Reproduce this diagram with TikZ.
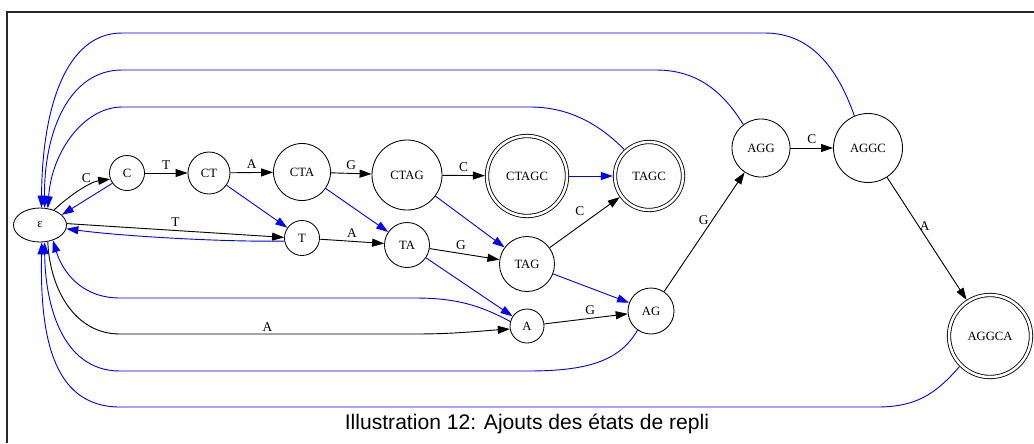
\documentclass[tikz,border=0pt]{standalone}
\usepackage{fontspec}
\setmainfont{Liberation Serif}
\newfontfamily\legendefont{Liberation Sans}
\usetikzlibrary{arrows.meta, shapes.geometric}
\definecolor{repli}{RGB}{0, 0, 255}
\definecolor{cadre}{RGB}{40, 40, 40}

\tikzset{
  etat/.style={circle, draw, line width=0.6pt, inner sep=0pt, font=\fontsize{9}{11}\selectfont},
  final/.style={etat, double, double distance=1.8pt, outer sep=1.5pt},
  fleche/.style={-{Triangle[length=3mm, width=2mm]}, line width=0.65pt},
  retour/.style={fleche, repli},
  lbl/.style={font=\fontsize{9.5}{11}\selectfont, inner sep=2.5pt}
}

\begin{document}
\begin{tikzpicture}[x=0.025cm, y=-0.025cm]
        \useasboundingbox (0,0) rectangle (1034,443);
        % Cadre
        \draw[line width=0.9pt, cadre] (7,443) -- (7,12) -- (1034,12);

        % Etats
        \node[draw, ellipse, line width=0.6pt, inner sep=0pt, minimum width=1.325cm, minimum height=0.85cm, font=\fontsize{9}{11}\selectfont] (e) at (40,225) {ε};
        \node[etat, minimum size=0.875cm] (c) at (127,173) {C};
        \node[etat, minimum size=1.05cm] (ct) at (209,173) {CT};
        \node[etat, minimum size=1.425cm] (cta) at (302,172) {CTA};
        \node[etat, minimum size=1.75cm] (ctag) at (407,175) {CTAG};
        \node[final, minimum size=2cm] (ctagc) at (527,176) {CTAGC};
        \node[final, minimum size=1.7cm] (tagc) at (649,176) {TAGC};
        \node[etat, minimum size=0.875cm] (t) at (302,238) {T};
        \node[etat, minimum size=1.125cm] (ta) at (407,245) {TA};
        \node[etat, minimum size=1.375cm] (tag) at (527,264) {TAG};
        \node[etat, minimum size=0.85cm] (a) at (527,326) {A};
        \node[etat, minimum size=1.15cm] (ag) at (651,311) {AG};
        \node[etat, minimum size=1.45cm] (agg) at (761,148) {AGG};
        \node[etat, minimum size=1.725cm] (aggc) at (868,148) {AGGC};
        \node[final, minimum size=2.05cm] (aggca) at (990,336) {AGGCA};

        % Transitions
        \draw[fleche] (e.47) .. controls (70,195) and (90,182) .. node[lbl, above, pos=0.6] {C} (c.200);
        \draw[fleche] (c) -- node[lbl, above] {T} (ct);
        \draw[fleche] (ct) -- node[lbl, above] {A} (cta);
        \draw[fleche] (cta) -- node[lbl, above] {G} (ctag);
        \draw[fleche] (ctag) -- node[lbl, above] {C} (ctagc);
        \draw[fleche] (e.3) -- node[lbl, above] {T} (t.178);
        \draw[fleche] (t) -- node[lbl, above] {A} (ta);
        \draw[fleche] (ta) -- node[lbl, above, pos=0.45] {G} (tag);
        \draw[fleche] (tag) -- node[lbl, above left, pos=0.55] {C} (tagc);
        \draw[fleche] (a) -- node[lbl, above, pos=0.55] {G} (ag);
        \draw[fleche] (ag) -- node[lbl, left, pos=0.6] {G} (agg);
        \draw[fleche] (agg) -- node[lbl, above] {C} (aggc);
        \draw[fleche] (aggc) -- node[lbl, right, pos=0.4, inner sep=0.5pt] {A} (aggca);
        \draw[fleche] (e.295) .. controls (50,290) and (75,334) .. (120,334)
            -- node[lbl, above, inner sep=1.5pt] {A} (415,334) .. controls (455,334) and (480,331) .. (a.190);

        % Etats de repli
        \draw[retour] (c.215) -- (e.25);
        \draw[retour] (t.190) .. controls (220,242) and (120,236) .. (e.-8);
        \draw[retour] (ct) -- (t);
        \draw[retour] (cta) -- (ta);
        \draw[retour] (ctag) -- (tag);
        \draw[retour] (ctagc) -- (tagc);
        \draw[retour] (ta) -- (a);
        \draw[retour] (tag) -- (ag);
        \draw[retour] (tagc.133) .. controls (600,125) and (570,107) .. (530,107)
            -- (122,107) .. controls (85,107) and (52,150) .. (e.65);
        \draw[retour] (agg.127) .. controls (725,95) and (700,70) .. (656,70)
            -- (122,70) .. controls (70,70) and (44,130) .. (e.75);
        \draw[retour] (aggc.113) .. controls (840,75) and (815,33) .. (765,33)
            -- (122,33) .. controls (65,33) and (42,110) .. (e.85);
        \draw[retour] (a.165) .. controls (480,305) and (455,298) .. (415,298)
            -- (120,298) .. controls (80,298) and (62,270) .. (e.310);
        \draw[retour] (ag.235) .. controls (620,360) and (590,371) .. (528,371)
            -- (120,371) .. controls (60,371) and (45,300) .. (e.285);
        \draw[retour] (aggca.225) .. controls (935,395) and (915,407) .. (877,407)
            -- (120,407) .. controls (50,407) and (40,330) .. (e.276);

        % Legende
        \node[font=\legendefont\fontsize{15}{18}\selectfont] (legende) at (527,424) {Illustration 12: Ajouts des états de repli};
\end{tikzpicture}
\end{document}
